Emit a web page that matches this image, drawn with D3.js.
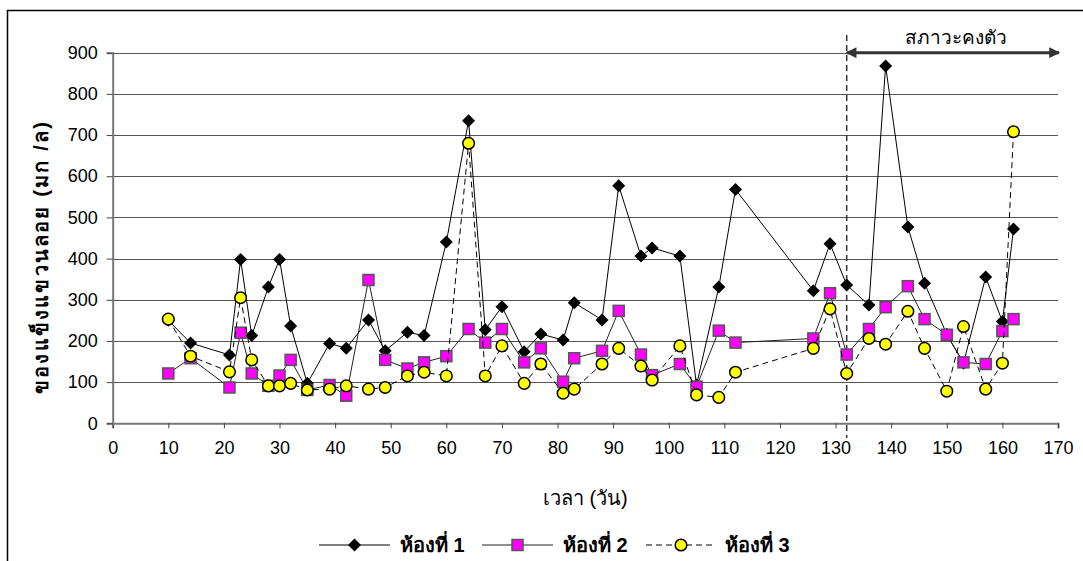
<!DOCTYPE html>
<html>
<head>
<meta charset="utf-8">
<script src="https://cdn.jsdelivr.net/npm/d3@7/dist/d3.min.js"></script>
<style>
  html, body { margin: 0; padding: 0; background: #fff; }
  svg { display: block; }
  text { font-family: "Liberation Sans", Arial, sans-serif; fill: #000; }
</style>
</head>
<body>
<svg id="chart" width="1083" height="561"></svg>
<script>
// Sampling days and suspended solids (mg/L) for the three rooms
const days  = [10,14,21,23,25,28,30,32,35,39,42,46,49,53,56,60,64,67,70,74,77,81,83,88,91,95,97,102,105,109,112,126,129,132,136,139,143,146,150,153,157,160,162];
const room1 = [250,195,166,398,213,331,398,236,97,194,182,251,176,221,213,440,735,227,283,174,217,202,293,251,577,406,426,406,93,331,568,322,436,336,287,868,477,340,216,146,355,247,472];
const room2 = [121,158,87,220,121,91,116,154,81,93,67,348,154,133,148,163,229,196,229,148,182,101,158,176,273,167,117,144,89,225,196,206,316,167,229,282,333,253,215,148,144,224,253];
const room3 = [253,163,125,305,154,91,91,97,81,83,91,83,87,115,124,115,680,115,188,97,144,73,83,144,182,139,105,188,69,63,124,182,278,121,206,192,272,182,78,235,83,146,708];

const seriesNames = ["ห้องที่ 1", "ห้องที่ 2", "ห้องที่ 3"];
const xTicks = d3.range(0, 171, 10);
const yTicks = d3.range(0, 901, 100);
const steadyStart = 132;
const steadyEnd = 170;
const steadyLabel = "สภาวะคงตัว";
const xTitle = "เวลา (วัน)";
const yTitle = "ของแข็งแขวนลอย (มก /ล)";

const svg = d3.select("#chart");

// outer frame
svg.append("rect")
  .attr("x", 7.5).attr("y", 10.5).attr("width", 1090).attr("height", 570)
  .attr("fill", "none").attr("stroke", "#000").attr("stroke-width", 1.5);

const x = d3.scaleLinear().domain([0, 170]).range([112.7, 1058]);
const y = d3.scaleLinear().domain([0, 900]).range([423.3, 52.7]);

// horizontal gridlines
svg.append("g")
  .selectAll("line")
  .data(yTicks.filter(d => d > 0))
  .join("line")
  .attr("x1", x(0)).attr("x2", x(170))
  .attr("y1", d => Math.round(y(d)) + 0.5).attr("y2", d => Math.round(y(d)) + 0.5)
  .attr("stroke", "#555").attr("stroke-width", 1);

// axes
const xAxis = svg.append("g")
  .attr("transform", `translate(0,${y(0)})`)
  .call(d3.axisBottom(x).tickValues(xTicks).tickSize(5).tickPadding(13).tickFormat(d3.format("d")));
const yAxis = svg.append("g")
  .attr("transform", `translate(${x(0)},0)`)
  .call(d3.axisLeft(y).tickValues(yTicks).tickSize(6).tickPadding(9).tickFormat(d3.format("d")));

[xAxis, yAxis].forEach(g => {
  g.select(".domain").attr("stroke", "#777").attr("stroke-width", 2);
  g.selectAll(".tick line").attr("stroke", "#444").attr("stroke-width", 1);
  g.selectAll(".tick text")
    .style("font-family", '"Liberation Sans", Arial, sans-serif')
    .style("font-size", "18px").attr("fill", "#000");
});

// axis titles
svg.append("text")
  .attr("x", (x(0) + x(170)) / 2).attr("y", 505)
  .attr("text-anchor", "middle")
  .style("font-size", "20px")
  .text(xTitle);

svg.append("text")
  .attr("transform", `translate(48,258) rotate(-90)`)
  .attr("text-anchor", "middle")
  .style("font-size", "20px").style("font-weight", "bold")
  .attr("textLength", 272).attr("lengthAdjust", "spacing")
  .text(yTitle);

// steady-state marker
svg.append("line")
  .attr("x1", x(steadyStart)).attr("x2", x(steadyStart))
  .attr("y1", 35).attr("y2", 438)
  .attr("stroke", "#333").attr("stroke-width", 1.5)
  .attr("stroke-dasharray", "6,4");

const defs = svg.append("defs");
["arrowEnd", "arrowStart"].forEach((id, i) => {
  defs.append("marker")
    .attr("id", id)
    .attr("viewBox", "0 0 10 10")
    .attr("refX", 9).attr("refY", 5)
    .attr("markerWidth", 4.2).attr("markerHeight", 3.6)
    .attr("markerUnits", "strokeWidth")
    .attr("orient", i === 0 ? "auto" : "auto-start-reverse")
    .append("path")
    .attr("d", "M0,0 L10,5 L0,10 Z")
    .attr("fill", "#333");
});

svg.append("line")
  .attr("x1", x(steadyStart)).attr("x2", x(steadyEnd) + 1)
  .attr("y1", y(900)).attr("y2", y(900))
  .attr("stroke", "#333").attr("stroke-width", 3)
  .attr("marker-start", "url(#arrowStart)")
  .attr("marker-end", "url(#arrowEnd)");

svg.append("text")
  .attr("x", (x(steadyStart) + x(steadyEnd)) / 2 + 4).attr("y", 44)
  .attr("text-anchor", "middle")
  .style("font-size", "19px").attr("fill", "#333")
  .text(steadyLabel);

// data series
const rows = days.map((d, i) => ({ day: d, v: [room1[i], room2[i], room3[i]] }));

const lineStyles = [
  { stroke: "#000", width: 1, dash: null },
  { stroke: "#222", width: 1, dash: null },
  { stroke: "#000", width: 1, dash: "6,4" }
];

function drawMarker(g, idx, cx, cy) {
  if (idx === 0) {
    g.append("path")
      .attr("d", "M0,-6.5 L6.5,0 L0,6.5 L-6.5,0 Z")
      .attr("transform", `translate(${cx},${cy})`)
      .attr("fill", "#000");
  } else if (idx === 1) {
    g.append("rect")
      .attr("x", cx - 5.5).attr("y", cy - 5.5)
      .attr("width", 11).attr("height", 11)
      .attr("fill", "#ff00ff").attr("stroke", "#555").attr("stroke-width", 1.5);
  } else {
    g.append("circle")
      .attr("cx", cx).attr("cy", cy).attr("r", 5.8)
      .attr("fill", "#ffff00").attr("stroke", "#000").attr("stroke-width", 1.5);
  }
}

[0, 1, 2].forEach(k => {
  const g = svg.append("g");
  const line = d3.line().x(d => x(d.day)).y(d => y(d.v[k]));
  g.append("path")
    .datum(rows)
    .attr("d", line)
    .attr("fill", "none")
    .attr("stroke", lineStyles[k].stroke)
    .attr("stroke-width", lineStyles[k].width)
    .attr("stroke-dasharray", lineStyles[k].dash);
  rows.forEach(d => drawMarker(g, k, x(d.day), y(d.v[k])));
});

// legend
const legendItems = [
  { x0: 319, x1: 390, label: 400 },
  { x0: 482, x1: 553, label: 563 },
  { x0: 646, x1: 716, label: 725 }
];
const ly = 545;
legendItems.forEach((it, k) => {
  const g = svg.append("g");
  g.append("line")
    .attr("x1", it.x0).attr("x2", it.x1).attr("y1", ly).attr("y2", ly)
    .attr("stroke", lineStyles[k].stroke)
    .attr("stroke-width", lineStyles[k].width)
    .attr("stroke-dasharray", lineStyles[k].dash);
  drawMarker(g, k, (it.x0 + it.x1) / 2, ly);
  g.append("text")
    .attr("x", it.label).attr("y", ly + 7)
    .style("font-size", "20px").style("font-weight", "bold")
    .text(seriesNames[k]);
});
</script>
</body>
</html>
